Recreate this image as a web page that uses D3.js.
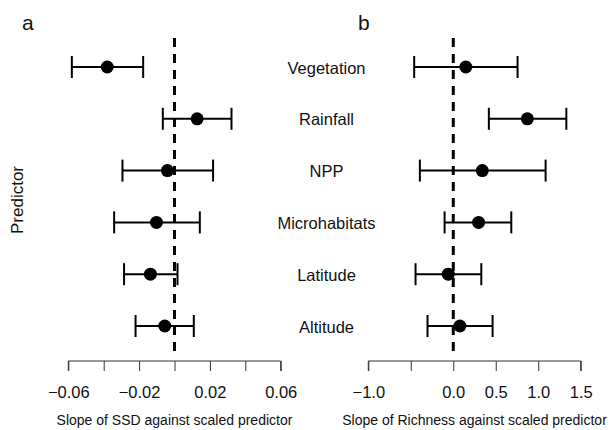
<!DOCTYPE html>
<html>
<head>
<meta charset="utf-8">
<script src="https://cdn.jsdelivr.net/npm/d3@7"></script>
<style>
  body { margin: 0; background: #fff; }
  text { font-family: "Liberation Sans", Arial, sans-serif; fill: #111; }
</style>
</head>
<body>
<svg id="chart"></svg>
<script>
// predictors, top to bottom
var predictors = ["Vegetation", "Rainfall", "NPP", "Microhabitats", "Latitude", "Altitude"];

// panel a: slope of SSD
var ssdEst = [-0.038, 0.0128, -0.004, -0.0102, -0.0136, -0.0055];
var ssdLo  = [-0.058, -0.0066, -0.0294, -0.0341, -0.0285, -0.022];
var ssdHi  = [-0.0177, 0.0322, 0.0218, 0.0143, 0.0017, 0.0109];
var ssdTicks = [-0.06, -0.04, -0.02, 0, 0.02, 0.04, 0.06];
var ssdTickLabels = ["\u22120.06", "", "\u22120.02", "", "0.02", "", "0.06"];

// panel b: slope of richness
var richEst = [0.148, 0.872, 0.342, 0.298, -0.059, 0.078];
var richLo  = [-0.46, 0.419, -0.393, -0.102, -0.444, -0.303];
var richHi  = [0.757, 1.331, 1.087, 0.683, 0.33, 0.463];
var richTicks = [-1.0, -0.5, 0, 0.5, 1.0, 1.5];
var richTickLabels = ["\u22121.0", "", "0.0", "0.5", "1.0", "1.5"];

var width = 611, height = 430;
var svg = d3.select("#chart").attr("width", width).attr("height", height);

var y = d3.scalePoint()
    .domain(predictors)
    .range([67, 326]);

function panel(opts) {
  var x = d3.scaleLinear().domain(opts.domain).range(opts.range);
  var g = svg.append("g");

  // axis at the bottom, R style
  var axis = d3.axisBottom(x)
      .tickValues(opts.ticks)
      .tickSize(10)
      .tickPadding(15)
      .tickFormat((d, i) => opts.tickLabels[i]);
  var ax = g.append("g")
      .attr("transform", "translate(0,361)")
      .call(axis);
  ax.select(".domain").attr("d", "M" + x(opts.domain[0]) + ",10V0H" + x(opts.domain[1]) + "V10")
      .attr("stroke", "#333").attr("stroke-width", 1);
  ax.selectAll(".tick line").attr("stroke", "#333");
  ax.selectAll(".tick text")
      .style("font-family", "Liberation Sans, Arial, sans-serif")
      .style("font-size", "16.5px")
      .attr("fill", "#111");

  g.append("text")
      .attr("x", (x(opts.domain[0]) + x(opts.domain[1])) / 2)
      .attr("y", 425)
      .attr("text-anchor", "middle")
      .style("font-size", "14px")
      .text(opts.title);

  // zero reference line
  g.append("line")
      .attr("x1", x(0)).attr("x2", x(0))
      .attr("y1", 38).attr("y2", 358)
      .attr("stroke", "#000")
      .attr("stroke-width", 3)
      .attr("stroke-dasharray", "9,7");

  var rows = g.selectAll(".row")
    .data(predictors.map((p, i) => ({p: p, est: opts.est[i], lo: opts.lo[i], hi: opts.hi[i]})))
    .enter().append("g")
      .attr("class", "row");

  rows.append("line")
      .attr("x1", d => x(d.lo)).attr("x2", d => x(d.hi))
      .attr("y1", d => y(d.p)).attr("y2", d => y(d.p))
      .attr("stroke", "#000").attr("stroke-width", 2);
  rows.append("line")
      .attr("x1", d => x(d.lo)).attr("x2", d => x(d.lo))
      .attr("y1", d => y(d.p) - 11).attr("y2", d => y(d.p) + 11)
      .attr("stroke", "#000").attr("stroke-width", 2);
  rows.append("line")
      .attr("x1", d => x(d.hi)).attr("x2", d => x(d.hi))
      .attr("y1", d => y(d.p) - 11).attr("y2", d => y(d.p) + 11)
      .attr("stroke", "#000").attr("stroke-width", 2);
  rows.append("circle")
      .attr("cx", d => x(d.est)).attr("cy", d => y(d.p))
      .attr("r", 6.5)
      .attr("fill", "#000");

  g.append("text")
      .attr("x", opts.letterX).attr("y", 30)
      .style("font-size", "21px")
      .text(opts.letter);
}

panel({
  domain: [-0.06, 0.06], range: [68.3, 280.7],
  ticks: ssdTicks, tickLabels: ssdTickLabels,
  est: ssdEst, lo: ssdLo, hi: ssdHi,
  title: "Slope of SSD against scaled predictor",
  letter: "a", letterX: 22
});

panel({
  domain: [-1.0, 1.5], range: [368.3, 580.7],
  ticks: richTicks, tickLabels: richTickLabels,
  est: richEst, lo: richLo, hi: richHi,
  title: "Slope of Richness against scaled predictor",
  letter: "b", letterX: 358
});

// predictor names between the panels
svg.selectAll(".plabel")
  .data(predictors)
  .enter().append("text")
    .attr("class", "plabel")
    .attr("x", 326.5)
    .attr("y", d => y(d) + 6.5)
    .attr("text-anchor", "middle")
    .style("font-size", "16.5px")
    .text(d => d);

svg.append("text")
    .attr("transform", "translate(23,200) rotate(-90)")
    .attr("text-anchor", "middle")
    .style("font-size", "17px")
    .text("Predictor");
</script>
</body>
</html>
